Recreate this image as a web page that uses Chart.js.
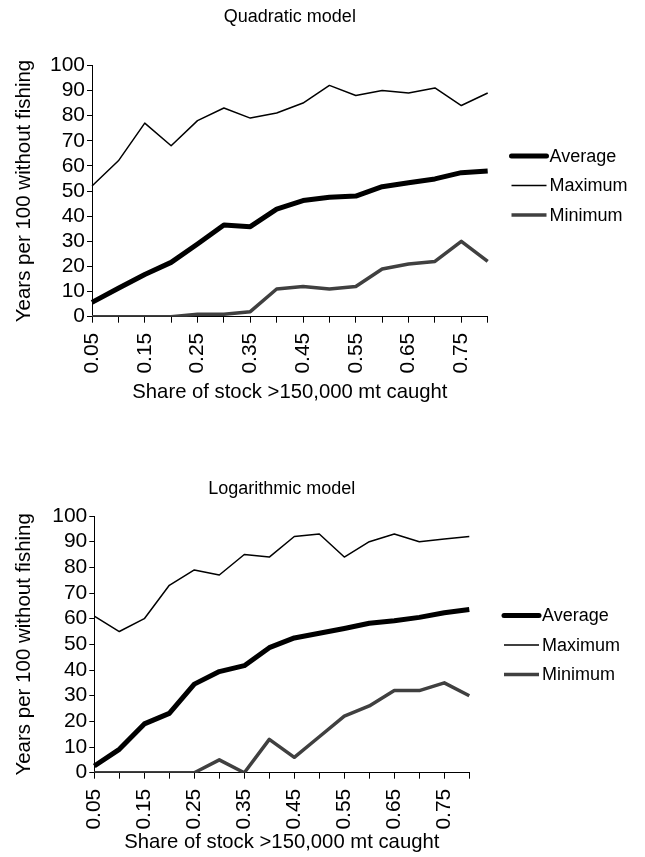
<!DOCTYPE html>
<html>
<head>
<meta charset="utf-8">
<script src="https://cdn.jsdelivr.net/npm/chart.js@4.4.1/dist/chart.umd.min.js"></script>
<style>
  html, body { margin: 0; padding: 0; background: #fff; }
  #wrap { position: relative; width: 645px; height: 857px; }
  canvas { position: absolute; left: 0; }
</style>
</head>
<body>
<div id="wrap">
  <canvas id="quad" width="645" height="430" style="top:0px"></canvas>
  <canvas id="log" width="645" height="427" style="top:430px"></canvas>
</div>
<script>
// Share of the stock above 150,000 mt that is caught
const shareLabels = ['0.05', '0.10', '0.15', '0.20', '0.25', '0.30', '0.35', '0.40',
                     '0.45', '0.50', '0.55', '0.60', '0.65', '0.70', '0.75', '0.80'];

// Years per 100 without fishing — quadratic model
const quadAverage = [5.7, 11.3, 16.8, 21.6, 28.9, 36.5, 35.8, 42.8, 46.2, 47.5, 48, 51.7, 53.3, 54.8, 57.3, 58];
const quadMaximum = [52, 62, 77, 68, 78, 83, 79, 81, 85, 92, 88, 90, 89, 91, 84, 89];
const quadMinimum = [0, 0, 0, 0, 1, 1, 2, 11, 12, 11, 12, 19, 21, 22, 30, 22];

// Years per 100 without fishing — logarithmic model
const logAverage = [2.6, 9.1, 19, 23.1, 34.5, 39.4, 41.7, 48.7, 52.5, 54.3, 56.2, 58.2, 59.2, 60.5, 62.3, 63.6];
const logMaximum = [61, 55, 60, 73, 79, 77, 85, 84, 92, 93, 84, 90, 93, 90, 91, 92];
const logMinimum = [0, 0, 0, 0, 0, 5, 0, 13, 6, 14, 22, 26, 32, 32, 35, 30];

const seriesNames = ['Average', 'Maximum', 'Minimum'];
const yMin = 0, yMax = 100, yStep = 10;

const FONT = "'Liberation Sans', Arial, Helvetica, sans-serif";

// Legend drawn beside the plot: a short line sample followed by the series name
const sideLegend = {
  id: 'sideLegend',
  afterDraw(chart, args, opts) {
    const ctx = chart.ctx;
    ctx.save();
    ctx.font = opts.fontSize + 'px ' + FONT;
    ctx.textBaseline = 'middle';
    ctx.textAlign = 'left';
    chart.data.datasets.forEach((ds, i) => {
      const y = opts.y + i * opts.spacing;
      ctx.beginPath();
      ctx.lineWidth = ds.borderWidth;
      ctx.strokeStyle = ds.borderColor;
      ctx.lineCap = i === 0 ? 'round' : 'butt';
      ctx.moveTo(opts.x, y);
      ctx.lineTo(opts.x + opts.lineLength, y);
      ctx.stroke();
      ctx.fillStyle = '#000';
      ctx.fillText(ds.label, opts.x + opts.lineLength + opts.gap, y + 1);
    });
    ctx.restore();
  }
};

function makeChart(canvasId, title, avg, max, min, geo) {
  const lineStyles = [
    { data: avg, borderColor: '#000000', borderWidth: 5 },
    { data: max, borderColor: '#000000', borderWidth: 1.5 },
    { data: min, borderColor: '#404040', borderWidth: 3.5 }
  ];
  return new Chart(document.getElementById(canvasId), {
    type: 'line',
    data: {
      labels: shareLabels,
      datasets: lineStyles.map((s, i) => ({
        label: seriesNames[i],
        data: s.data,
        borderColor: s.borderColor,
        backgroundColor: s.borderColor,
        borderWidth: s.borderWidth,
        pointRadius: 0,
        pointHoverRadius: 0,
        tension: 0,
        fill: false,
        borderJoinStyle: 'round',
        borderCapStyle: 'butt'
      }))
    },
    options: {
      responsive: false,
      animation: false,
      events: [],
      layout: { padding: { left: 0, top: 0, right: geo.padRight, bottom: 0 } },
      plugins: {
        legend: { display: false },
        tooltip: { enabled: false },
        title: {
          display: true,
          text: title,
          fullSize: false,
          color: '#000',
          font: { family: FONT, size: 18, weight: 'normal' },
          padding: { top: geo.titleTop, bottom: geo.titleBottom }
        },
        sideLegend: { x: geo.legendX, y: geo.legendY, spacing: 29.5, lineLength: 35, gap: 3, fontSize: 18 }
      },
      scales: {
        x: {
          type: 'category',
          offset: false,
          afterFit: (scale) => { scale.height = geo.xHeight; },
          grid: { display: true, drawOnChartArea: false, drawTicks: true, tickLength: 6, color: '#000', lineWidth: 1 },
          border: { display: true, color: '#000', width: 1 },
          ticks: {
            autoSkip: false,
            maxRotation: 90,
            minRotation: 90,
            padding: 10,
            color: '#000',
            font: { family: FONT, size: 21 },
            callback: (value, index) => (index % 2 === 0 ? shareLabels[index] : '')
          },
          title: {
            display: true,
            text: 'Share of stock >150,000 mt caught',
            color: '#000',
            font: { family: FONT, size: 20.3 },
            padding: { top: 0, bottom: geo.xTitleBottom }
          }
        },
        y: {
          min: yMin,
          max: yMax,
          afterFit: (scale) => { scale.width = geo.yWidth; },
          grid: { display: true, drawOnChartArea: false, drawTicks: true, tickLength: 5, color: '#000', lineWidth: 1 },
          border: { display: true, color: '#000', width: 1 },
          ticks: {
            stepSize: yStep,
            autoSkip: false,
            padding: 2,
            color: '#000',
            font: { family: FONT, size: 21 }
          },
          title: {
            display: true,
            text: 'Years per 100 without fishing',
            color: '#000',
            font: { family: FONT, size: 20.5 },
            padding: { top: 12, bottom: 0 }
          }
        }
      }
    },
    plugins: [sideLegend]
  });
}

makeChart('quad', 'Quadratic model', quadAverage, quadMaximum, quadMinimum, {
  padRight: 157.3, titleTop: 6, titleBottom: 37.7, xHeight: 113.3, xTitleBottom: 25.8,
  yWidth: 92, legendX: 511.5, legendY: 156
});

makeChart('log', 'Logarithmic model', logAverage, logMaximum, logMinimum, {
  padRight: 175.7, titleTop: 48, titleBottom: 16.4, xHeight: 84.3, xTitleBottom: 2.5,
  yWidth: 94.3, legendX: 504, legendY: 185.5
});
</script>
</body>
</html>
